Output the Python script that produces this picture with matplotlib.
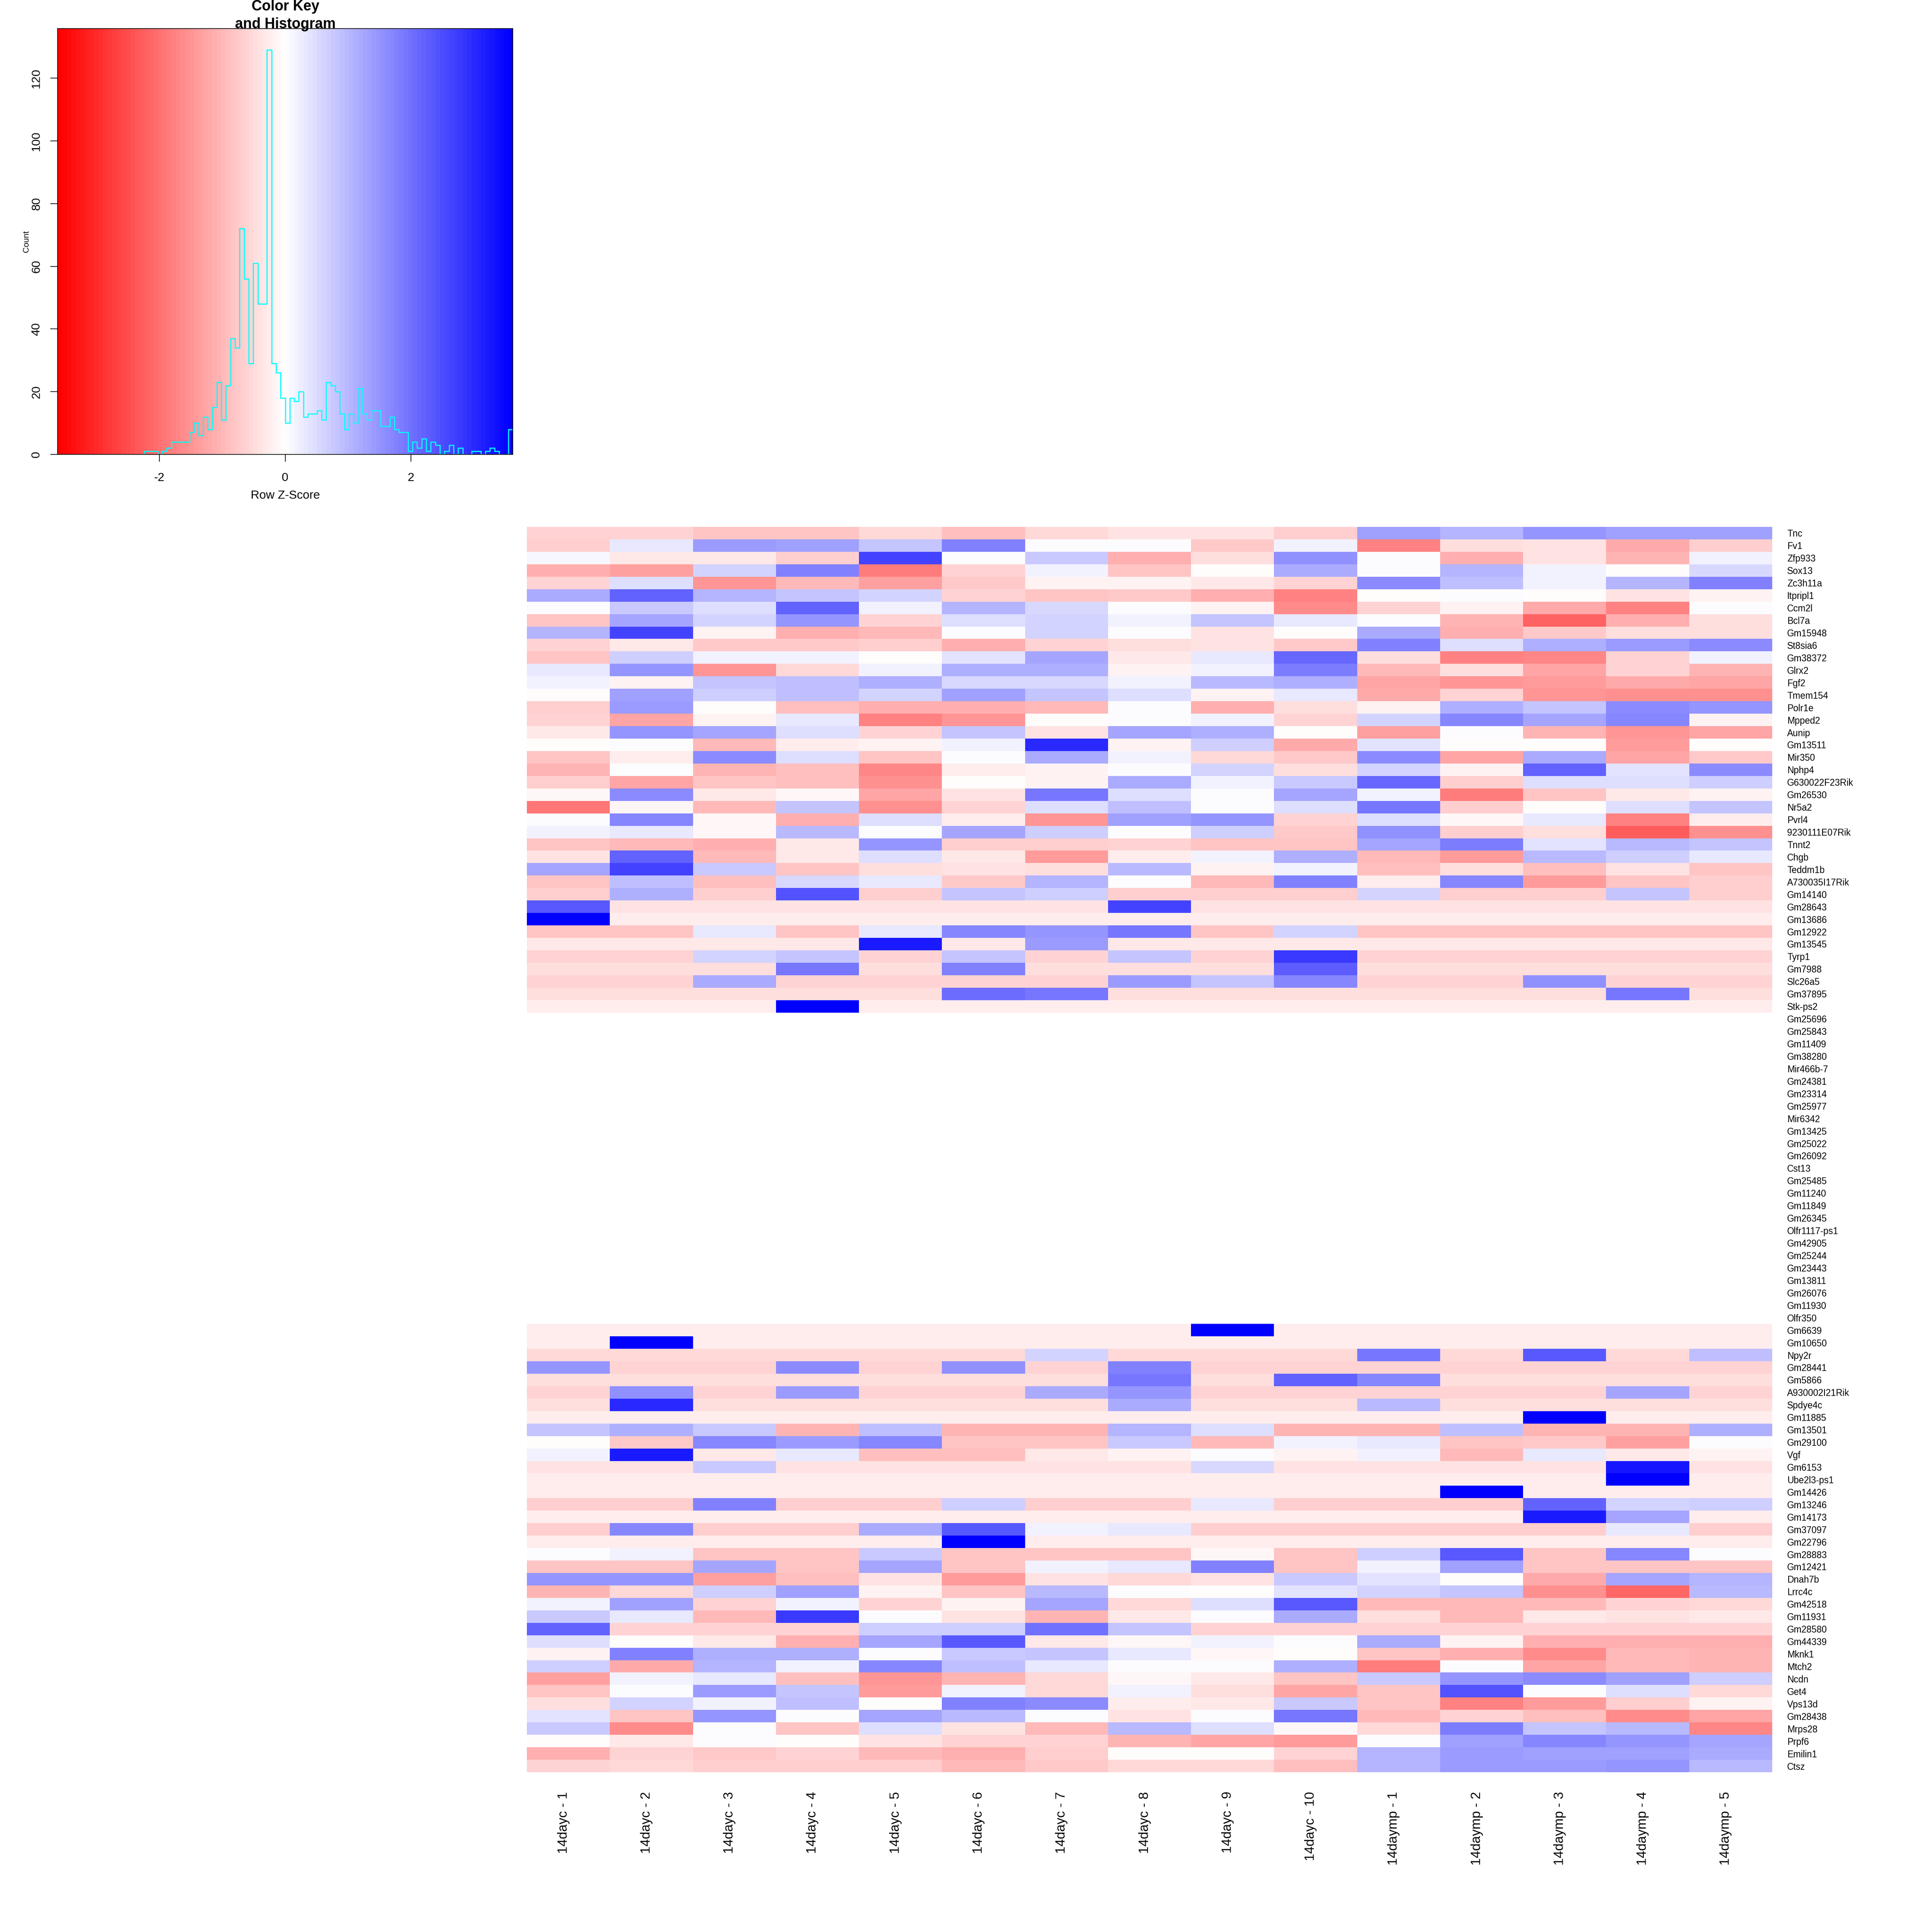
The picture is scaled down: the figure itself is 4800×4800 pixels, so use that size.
import matplotlib
matplotlib.use("Agg")
import matplotlib.pyplot as plt
from matplotlib.colors import LinearSegmentedColormap
from matplotlib.transforms import ScaledTranslation
import numpy as np

plt.rcParams['font.family'] = ['Liberation Sans', 'DejaVu Sans']
plt.rcParams['axes.unicode_minus'] = False

samples = ["14dayc - 1", "14dayc - 2", "14dayc - 3", "14dayc - 4", "14dayc - 5",
           "14dayc - 6", "14dayc - 7", "14dayc - 8", "14dayc - 9", "14dayc - 10",
           "14daymp - 1", "14daymp - 2", "14daymp - 3", "14daymp - 4", "14daymp - 5"]

# first block of genes, z-scores
genes_top = ["Tnc", "Fv1", "Zfp933", "Sox13", "Zc3h11a", "Itpripl1", "Ccm2l", "Bcl7a", "Gm15948", "St8sia6",
             "Gm38372", "Glrx2", "Fgf2", "Tmem154", "Polr1e", "Mpped2", "Aunip", "Gm13511", "Mir350", "Nphp4",
             "G630022F23Rik", "Gm26530", "Nr5a2", "Pvrl4", "9230111E07Rik", "Tnnt2", "Chgb", "Teddm1b",
             "A730035I17Rik", "Gm14140", "Gm28643", "Gm13686", "Gm12922", "Gm13545", "Tyrp1", "Gm7988",
             "Slc26a5", "Gm37895", "Stk-ps2"]
z_top = [
    [-.65,-.65,-.85,-.85,-.55,-.9,-.55,-.38,-.38,-.7,1.35,1.05,1.5,1.35,1.35],
    [-.7,.3,1.4,1.35,.85,1.75,0,0,-.75,.2,-1.8,-.45,-.42,-1.2,-.7],
    [.08,-.3,-.3,-.7,2.65,0,.75,-1.15,-.45,1.55,.07,-1.1,-.4,-1.05,.15],
    [-1.1,-1.35,.65,1.8,-1.85,-.6,.15,-.8,-.05,1.2,0,1.05,.2,-.05,.55],
    [-.6,.45,-1.5,-.95,-1.35,-.75,-.15,-.15,-.3,-.6,1.65,.9,.2,1.05,1.8],
    [1.2,2.2,1.05,.8,.65,-.6,-.85,-.75,-1.1,-1.8,-.07,0,-.05,-.42,-.2],
    [.07,.75,.45,2.2,.15,1.05,.55,0,-.15,-1.6,-.6,-.15,-1.2,-1.8,0],
    [-.85,1.3,.65,1.45,-.65,.5,.65,.2,.85,.3,.07,-1.05,-2.2,-1.1,-.5],
    [1.05,2.65,-.15,-1.15,-.95,.07,.65,0,-.42,-.05,1.2,-1.1,-.75,-.5,-.45],
    [-.6,-.35,-.75,-.75,-.7,-1.15,-.6,-.5,-.42,-.75,1.75,.5,1.1,1.4,1.65],
    [-.85,.7,.2,.2,-.05,.4,1.25,-.3,.3,2.15,-.45,-1.8,-1.7,-.65,.2],
    [.3,1.45,-1.45,-.55,.15,1.15,1.15,-.15,.2,1.85,-.95,-.45,-1.3,-.65,-1.05],
    [.15,-.2,.85,.9,1.1,.55,.55,.2,1.0,1.15,-1.3,-1.45,-1.4,-1.2,-1.3],
    [-.05,1.35,.7,.9,.6,1.35,.85,.5,-.15,.35,-1.2,-.6,-1.5,-1.55,-1.55],
    [-.7,1.4,-.05,-.9,-1.15,-1.1,-.95,0,-1.1,-.5,-.2,1.1,.85,1.6,1.5],
    [-.6,-1.25,-.2,.35,-1.75,-1.45,-.05,0,.15,-.6,.6,1.7,1.3,1.7,-.15],
    [-.3,1.45,1.3,.5,-.65,.85,-.42,1.25,1.15,-.05,-1.35,.07,-1.05,-1.45,-1.3],
    [-.05,0,-.95,-.25,-.15,.2,3.0,-.15,.7,-1.2,.4,-.05,-.05,-1.4,-.05],
    [-.8,-.25,1.6,.5,-.85,.07,1.2,.15,-.55,-.75,1.6,-1.25,1.2,-1.3,-.75],
    [-1.05,.07,-1.05,-.9,-1.7,-.25,-.15,0,.6,-.45,.6,-.15,2.2,.4,1.65],
    [-.7,-1.25,-.85,-.9,-1.55,-.05,-.15,1.2,.2,.75,2.1,-.7,.45,.45,.7],
    [-.1,1.6,-.3,-.1,-1.25,-.4,1.9,.5,.07,1.25,.2,-1.85,-.85,-.3,-.2],
    [-1.95,-.12,-.95,.85,-1.55,-.6,.45,.9,0,.45,1.9,-.7,-.05,.5,.85],
    [0,1.7,-.12,-1.1,.5,-.22,-1.5,1.35,1.45,-.65,.45,-.12,.3,-1.75,-.22],
    [.15,.3,-.12,1.0,.07,1.25,.7,.07,.7,-.75,1.55,-.7,-.5,-2.3,-1.55],
    [-.85,-.95,-1.15,-.3,1.5,-.7,-.7,-.6,-.8,-.8,1.3,1.85,.4,.95,.8],
    [-.42,2.2,-.95,-.3,.5,-.3,-1.4,-.25,.2,1.1,-.95,-1.4,.95,.7,.3],
    [1.25,2.65,.75,-.85,-.45,-.4,-.45,1.0,-.15,.15,-.9,-.45,-.9,-.42,-.85],
    [-.8,.9,-.9,.55,.35,-.75,1.05,0,-.95,1.75,-.25,1.7,-1.4,-.8,-.7],
    [-.7,1.1,-.7,2.4,-.7,.85,.7,-.7,-.7,-.7,.6,-.7,-.7,.8,-.7],
    [2.35,-.42,-.42,-.42,-.42,-.42,-.42,2.65,-.42,-.42,-.42,-.42,-.42,-.42,-.42],
    [3.62,-.22,-.22,-.22,-.22,-.22,-.22,-.22,-.22,-.22,-.22,-.22,-.22,-.22,-.22],
    [-.8,-.8,.35,-.8,.35,1.7,1.45,1.9,-.8,.65,-.8,-.8,-.8,-.8,-.8],
    [-.3,-.3,-.3,-.3,3.2,-.3,1.4,-.3,-.3,-.3,-.3,-.3,-.3,-.3,-.3],
    [-.65,-.65,.65,.85,-.65,.85,-.65,.85,-.65,2.8,-.65,-.65,-.65,-.65,-.65],
    [-.45,-.45,-.45,1.9,-.45,1.8,-.45,-.45,-.45,2.3,-.45,-.45,-.45,-.45,-.45],
    [-.65,-.65,1.2,-.65,-.65,-.65,-.65,1.4,.85,1.7,-.65,-.65,1.55,-.65,-.65],
    [-.45,-.45,-.45,-.45,-.45,2.05,1.9,-.45,-.45,-.45,-.45,-.45,-.45,1.9,-.45],
    [-.22,-.22,-.22,3.62,-.22,-.22,-.22,-.22,-.22,-.22,-.22,-.22,-.22,-.22,-.22],
]

# no variance in these, they stay blank
genes_blank = ["Gm25696", "Gm25843", "Gm11409", "Gm38280", "Mir466b-7", "Gm24381", "Gm23314", "Gm25977",
               "Mir6342", "Gm13425", "Gm25022", "Gm26092", "Cst13", "Gm25485", "Gm11240", "Gm11849", "Gm26345",
               "Olfr1117-ps1", "Gm42905", "Gm25244", "Gm23443", "Gm13811", "Gm26076", "Gm11930", "Olfr350"]

genes_bottom = ["Gm6639", "Gm10650", "Npy2r", "Gm28441", "Gm5866", "A930002I21Rik", "Spdye4c", "Gm11885",
                "Gm13501", "Gm29100", "Vgf", "Gm6153", "Ube2l3-ps1", "Gm14426", "Gm13246", "Gm14173", "Gm37097",
                "Gm22796", "Gm28883", "Gm12421", "Dnah7b", "Lrrc4c", "Gm42518", "Gm11931", "Gm28580", "Gm44339",
                "Mknk1", "Mtch2", "Ncdn", "Get4", "Vps13d", "Gm28438", "Mrps28", "Prpf6", "Emilin1", "Ctsz"]
z_bottom = [
    [-.22,-.22,-.22,-.22,-.22,-.22,-.22,-.22,3.62,-.22,-.22,-.22,-.22,-.22,-.22],
    [-.22,3.62,-.22,-.22,-.22,-.22,-.22,-.22,-.22,-.22,-.22,-.22,-.22,-.22,-.22],
    [-.55,-.55,-.55,-.55,-.55,-.55,.65,-.55,-.55,-.55,1.9,-.55,2.35,-.55,.9],
    [1.5,-.6,-.6,1.6,-.6,1.55,-.6,1.75,-.6,-.6,-.6,-.6,-.6,-.6,-.6],
    [-.45,-.45,-.45,-.45,-.45,-.45,-.45,1.9,-.45,2.2,1.7,-.45,-.45,-.45,-.45],
    [-.65,1.55,-.65,1.4,-.65,-.65,1.2,1.45,-.65,-.65,-.65,-.65,-.65,1.25,-.65],
    [-.45,3.0,-.45,-.45,-.45,-.45,-.45,1.2,-.45,-.45,1.0,-.45,-.45,-.45,-.45],
    [-.22,-.22,-.22,-.22,-.22,-.22,-.22,-.22,-.22,-.22,-.22,-.22,3.62,-.22,-.22],
    [.85,1.15,.75,-1.05,.9,-1.05,-1.05,1.05,.45,-1.05,-1.05,.9,-1.05,-1.05,1.1],
    [-.03,-.75,1.7,1.4,1.7,-.8,-.85,.75,-.95,.15,.35,-.85,-.75,-1.35,0],
    [.2,3.25,-.3,.3,-.9,-.9,-.3,-.2,0,-.15,.15,-.95,.35,-.3,-.2],
    [-.42,-.42,.75,-.42,-.42,-.42,-.42,-.42,.55,-.42,-.42,-.42,-.42,3.3,-.42],
    [-.22,-.22,-.22,-.22,-.22,-.22,-.22,-.22,-.22,-.22,-.22,-.22,-.22,3.62,-.22],
    [-.22,-.22,-.22,-.22,-.22,-.22,-.22,-.22,-.22,-.22,-.22,3.62,-.22,-.22,-.22],
    [-.7,-.7,1.75,-.7,-.7,.7,-.7,-.7,.3,-.7,-.7,-.7,2.2,.6,.7],
    [-.28,-.28,-.28,-.28,-.28,-.28,-.28,-.28,-.28,-.28,-.28,-.28,3.25,1.25,-.28],
    [-.7,1.7,-.7,-.7,1.2,2.35,.2,.35,-.7,-.7,-.7,-.7,-.7,.3,-.7],
    [-.22,-.22,-.22,-.22,-.22,3.62,-.22,-.22,-.22,-.22,-.22,-.22,-.22,-.22,-.22],
    [0,.15,-.85,-.85,.75,-.85,-.85,-.85,-.12,-.85,.7,2.35,-.85,1.7,.07],
    [-.85,-.85,1.25,-.85,1.25,-.85,.2,.35,1.8,-.85,.15,1.35,-.85,-.85,-.85],
    [1.45,1.45,-1.35,-.9,-.4,-1.4,-.4,-.55,-.42,.75,.4,-.05,-1.2,1.25,1.05],
    [-1.05,-.55,.7,1.35,-.15,-.8,1.0,.07,-.07,.4,.65,.8,-1.55,-2.1,1.0],
    [.15,1.35,-.6,.2,-.6,-.15,1.25,-.55,.5,2.35,-1.0,-1.0,-1.0,-.65,-.55],
    [.75,.35,-1.0,2.8,.07,-.42,-1.05,-.35,0,1.2,-.5,-1.0,-.35,-.42,-.32],
    [2.2,-.6,-.6,-.6,.7,.7,2.0,.85,-.6,-.6,-.6,-.6,-.6,-.6,-.6],
    [.5,-.03,-.3,-1.15,1.3,2.35,-.3,-.12,.2,0,1.2,-.2,-1.15,-1.15,-1.15],
    [-.2,1.75,1.1,1.15,0,.75,.8,.35,-.12,-.05,-.8,-1.15,-1.65,-1.0,-1.05],
    [.7,-1.2,1.05,.2,1.7,.9,.3,0,0,1.1,-1.85,0,-1.25,-1.0,-1.05],
    [-1.35,.15,.3,-.9,-1.45,-1.05,-.55,-.12,-.3,-.85,.75,1.45,1.65,1.35,.7],
    [-.85,.07,1.4,.85,-1.4,.15,-.55,.15,-.45,-1.3,-.85,2.4,.07,.45,-.55],
    [-.45,.65,.2,.9,-.03,1.75,1.6,-.22,-.3,.75,-.85,-1.8,-1.4,-.7,-.15],
    [.4,-.8,1.45,0,1.25,.95,.07,-.42,0,1.9,-.95,-.6,-.9,-1.6,-1.3],
    [.75,-1.6,0,-.85,.45,-.42,-.95,.95,.5,-.12,-.55,1.85,.8,.95,-1.7],
    [-.03,-.3,0,-.03,-.42,-.6,-.6,-1.05,-1.3,-1.4,.07,1.35,1.7,1.5,1.25],
    [-1.1,-.6,-.75,-.6,-.95,-1.15,-.7,-.05,-.05,-.6,1.05,1.4,1.35,1.35,1.2],
    [-.65,-.55,-.7,-.7,-.7,-.95,-.75,-.55,-.55,-.9,1.05,1.4,1.4,1.5,1.0],
]

# histogram counts of the colour key, 100 bins over the key range
hist_counts = [0,0,0,0,0,0,0,0,0,0,0,0,0,0,0,0,0,0,0,1,
               1,1,0,1,2,4,4,4,4,7,10,6,12,8,15,23,11,22,37,34,
               72,56,29,61,48,48,129,29,26,18,10,18,17,20,12,13,13,14,11,23,
               22,20,13,8,13,10,21,13,11,14,14,9,9,12,8,7,7,1,4,2,
               5,1,4,3,0,1,3,0,2,0,0,1,1,0,1,2,1,0,0,8]
zmax = 3.62
count_top = 135.8

W = 4800.0

def box(x0, y0, x1, y1):
    # pixel box, y from the top of the picture
    return [x0 / W, 1 - y1 / W, (x1 - x0) / W, (y1 - y0) / W]

genes = genes_top + genes_blank + genes_bottom
blank = np.full((len(genes_blank), len(samples)), np.nan)
mat = np.vstack([np.array(z_top), blank, np.array(z_bottom)])

rwb = LinearSegmentedColormap.from_list("rwb", ["#ff0000", "#ffffff", "#0000ff"], N=100)

fig = plt.figure(figsize=(16, 16), dpi=300)

# colour key
key = fig.add_axes(box(143, 71, 1274, 1129))
edges = np.linspace(-zmax, zmax, 101)
key.pcolormesh(edges, [0, count_top], (edges[:-1] + edges[1:])[None, :] / 2, cmap=rwb, vmin=-zmax, vmax=zmax)
key.stairs(hist_counts, edges, color="cyan", lw=0.65, baseline=None)
key.set_xlim(-zmax, zmax)
key.set_ylim(0, count_top)
key.set_xticks([-2, 0, 2])
key.set_yticks(range(0, 121, 20))
key.tick_params(axis="both", length=4.3, width=0.4, labelsize=7.1)
key.tick_params(axis="x", pad=6.2)
key.tick_params(axis="y", pad=5.0)
for t in key.get_yticklabels():
    t.set_rotation(90)
    t.set_va("center")
for s in key.spines.values():
    s.set_linewidth(0.4)
fig.text(709 / W, 1 - 1231 / W, "Row Z-Score", fontsize=7.1, ha="center", va="center")
fig.text(66 / W, 1 - 600 / W, "Count", rotation=90, fontsize=4.9, ha="center", va="center")
fig.text(709 / W, 1 - 16 / W, "Color Key", fontsize=8.6, fontweight="bold", ha="center", va="center")
fig.text(709 / W, 1 - 61 / W, "and Histogram", fontsize=8.6, fontweight="bold", ha="center", va="center")

# heatmap
ax = fig.add_axes(box(1309, 1309, 4403, 4403))
ax.pcolormesh(np.arange(len(samples) + 1), np.arange(len(genes) + 1), np.ma.masked_invalid(mat),
              cmap=rwb, vmin=-zmax, vmax=zmax)
ax.set_xlim(0, len(samples))
ax.set_ylim(len(genes), 0)
for s in ax.spines.values():
    s.set_visible(False)
ax.yaxis.tick_right()
ax.set_yticks(np.arange(len(genes)) + 0.5)
ax.set_yticklabels(genes, fontsize=5.45)
ax.set_xticks(np.arange(len(samples)) + 0.5)
ax.set_xticklabels(samples, fontsize=7.9, rotation=90, ha="center", va="top")
ax.tick_params(axis="y", length=0, pad=8.9)
ax.tick_params(axis="x", length=0, pad=11.5)
shift = ScaledTranslation(-12 / 300, 0, fig.dpi_scale_trans)
for t in ax.get_xticklabels():
    t.set_transform(t.get_transform() + shift)

fig.savefig("out.png", dpi=300)
